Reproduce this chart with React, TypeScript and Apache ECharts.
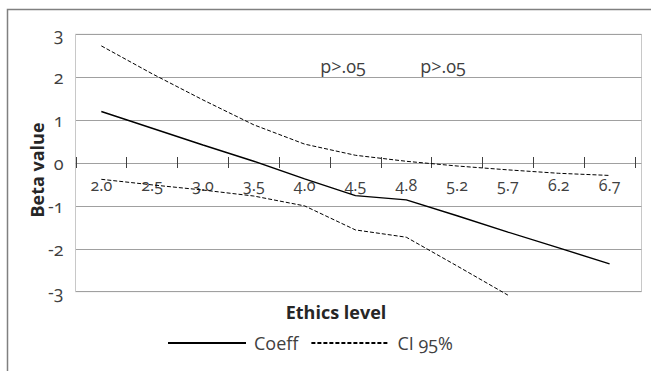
import React, { useEffect, useRef } from "react";
import * as echarts from "echarts";

const categories = ["2.0", "2.5", "3.0", "3.5", "4.0", "4.5", "4.8", "5.2", "5.7", "6.2", "6.7"];
const coeff = [1.2, 0.81, 0.42, 0.04, -0.37, -0.76, -0.86, -1.23, -1.61, -1.98, -2.35];
const ciUpper = [2.73, 2.08, 1.47, 0.89, 0.44, 0.18, 0.04, -0.07, -0.16, -0.24, -0.29];
const ciLower = [-0.38, -0.51, -0.63, -0.77, -1.0, -1.56, -1.73, -2.4, -3.08, null, null];
const annotations = ["p>.05", "p>.05"];
const yTicks = { min: -3, max: 3, interval: 1 };
const yTitle = "Beta value";
const xTitle = "Ethics level";

const FONT = "'Open Sans', 'Noto Sans', sans-serif";
const TEXT = "#404040";
const TITLE = "#262626";

// plot geometry (pixels)
const TOP = 34.3;
const BOTTOM = 79.3; // distance from bottom of canvas
const H = 371;
const ZERO_Y = TOP + ((yTicks.max - 0) / (yTicks.max - yTicks.min)) * (H - BOTTOM - TOP);

export default function App() {
  const ref = useRef<HTMLDivElement>(null);
  useEffect(() => {
    if (!ref.current) return;
    const chart = echarts.init(ref.current, undefined, { renderer: "svg" });
    const dataLR = { left: 75.9, right: 16 };
    chart.setOption({
      animation: false,
      textStyle: { fontFamily: FONT },
      grid: [
        { left: 75.5, right: 9.5, top: TOP, bottom: BOTTOM, show: true, borderColor: "#c8c8c8", borderWidth: 1 },
        { ...dataLR, top: TOP, bottom: BOTTOM },
        { ...dataLR, top: TOP, bottom: H - ZERO_Y },
        { ...dataLR, top: ZERO_Y, bottom: BOTTOM },
      ],
      xAxis: [
        {
          type: "category",
          gridIndex: 0,
          data: categories,
          axisLine: { show: false },
          axisTick: { show: false },
          axisLabel: { show: false },
          name: xTitle,
          nameLocation: "middle",
          nameGap: 11,
          nameTextStyle: { fontSize: 18, fontWeight: "bold", color: TITLE, fontFamily: FONT, padding: [0, 45, 0, 0] },
        },
        {
          type: "category",
          gridIndex: 1,
          data: categories,
          show: false,
        },
        {
          type: "category",
          gridIndex: 2,
          data: categories,
          position: "bottom",
          boundaryGap: true,
          axisLine: { show: true, onZero: false, lineStyle: { color: "#a0a0a0", width: 1 } },
          axisTick: { show: true, inside: false, length: 5, lineStyle: { color: "#404040", width: 1 } },
          axisLabel: { show: true, color: TEXT, fontSize: 16, margin: 14, fontFamily: FONT },
          splitLine: { show: false },
        },
        {
          type: "category",
          gridIndex: 3,
          data: categories,
          position: "top",
          boundaryGap: true,
          axisLine: { show: false, onZero: false },
          axisTick: { show: true, inside: false, length: 6, lineStyle: { color: "#404040", width: 1 } },
          axisLabel: { show: false },
          splitLine: { show: false },
        },
      ],
      yAxis: [
        {
          type: "value",
          gridIndex: 0,
          ...yTicks,
          axisLine: { show: true, lineStyle: { color: "#c8c8c8" } },
          axisTick: { show: false },
          axisLabel: { color: TEXT, fontSize: 18, margin: 12, fontFamily: FONT },
          splitLine: { show: true, lineStyle: { color: "#a0a0a0", width: 1 } },
        },
        { type: "value", gridIndex: 1, ...yTicks, show: false, splitLine: { show: false } },
        { type: "value", gridIndex: 2, min: 0, max: 1, show: false, splitLine: { show: false } },
        { type: "value", gridIndex: 3, min: 0, max: 1, show: false, splitLine: { show: false } },
      ],
      legend: {
        left: 167,
        top: 334,
        itemWidth: 78,
        itemHeight: 16,
        itemGap: 12,
        padding: 0,
        itemStyle: { opacity: 0 },
        textStyle: { fontSize: 18, color: TEXT, fontFamily: FONT, padding: [0, 0, 0, 3] },
        data: ["Coeff", "CI 95%"],
      },
      series: [
        {
          name: "Coeff",
          type: "line",
          xAxisIndex: 1,
          yAxisIndex: 1,
          data: coeff,
          symbol: "none",
          lineStyle: { color: "#000", width: 1.4, type: "solid" },
          itemStyle: { color: "#000" },
        },
        {
          name: "CI 95%",
          type: "line",
          xAxisIndex: 1,
          yAxisIndex: 1,
          data: ciUpper,
          symbol: "none",
          lineStyle: { color: "#000", width: 1, type: [4, 2] },
          itemStyle: { color: "#000" },
        },
        {
          name: "CI 95%",
          type: "line",
          xAxisIndex: 1,
          yAxisIndex: 1,
          data: ciLower,
          symbol: "none",
          clip: false,
          connectNulls: false,
          lineStyle: { color: "#000", width: 1, type: [4, 2] },
          itemStyle: { color: "#000" },
        },
      ],
      graphic: [
        {
          type: "rect",
          silent: true,
          shape: { x: 7.5, y: 9.5, width: 700, height: 400 },
          style: { fill: "none", stroke: "#808080", lineWidth: 1.5 },
        },
        {
          type: "text",
          x: 36.5,
          y: 170,
          rotation: Math.PI / 2,
          style: { text: yTitle, fontSize: 18, fontWeight: "bold", fill: TITLE, fontFamily: FONT, align: "center", verticalAlign: "middle" },
        },
        {
          type: "text",
          x: 343,
          y: 66,
          style: { text: annotations[0], fontSize: 18, fill: TEXT, fontFamily: FONT, align: "center", verticalAlign: "middle" },
        },
        {
          type: "text",
          x: 443,
          y: 66,
          style: { text: annotations[1], fontSize: 18, fill: TEXT, fontFamily: FONT, align: "center", verticalAlign: "middle" },
        },
      ],
    });
    return () => chart.dispose();
  }, []);
  return (
    <>
      <style>{`svg text { font-variant-numeric: oldstyle-nums !important; font-feature-settings: "onum" 1 !important; }`}</style>
      <div
        ref={ref}
        style={{ position: "fixed", left: 0, top: 0, width: 651, height: 371, background: "#fff" }}
      />
    </>
  );
}
